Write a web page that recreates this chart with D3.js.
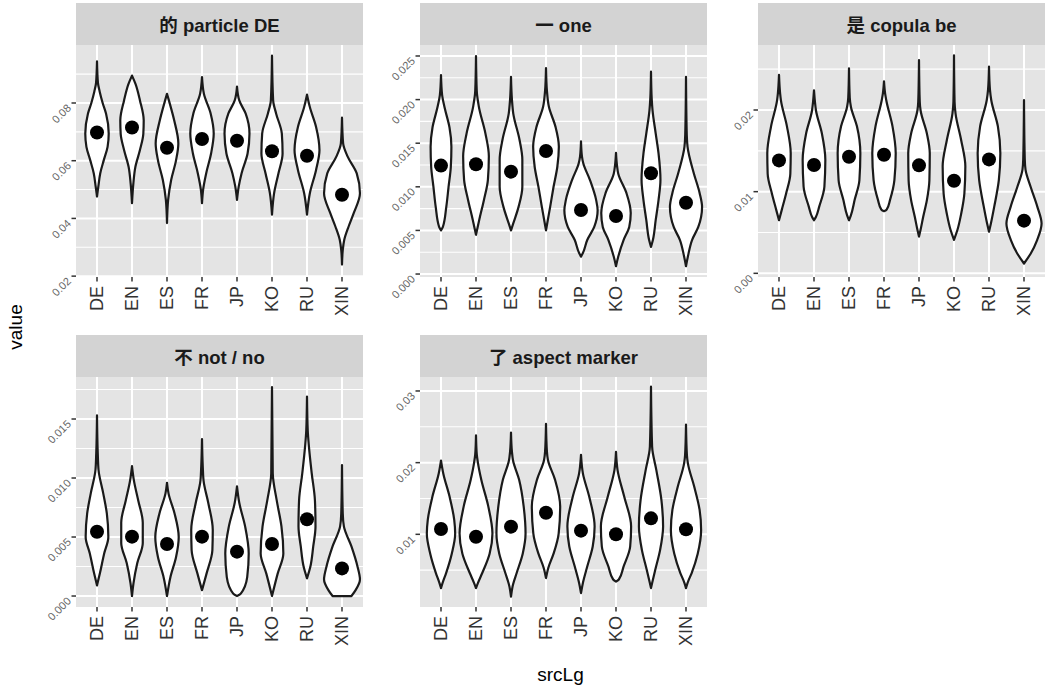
<!DOCTYPE html>
<html>
<head>
<meta charset="utf-8">
<script src="https://cdn.jsdelivr.net/npm/d3@7"></script>
<style>
  html, body { margin: 0; padding: 0; background: #ffffff; }
  svg { display: block; }
  text { font-family: "Liberation Sans", Arial, "Noto Sans CJK SC", sans-serif; }
</style>
</head>
<body>
<svg id="chart" width="1046" height="687"></svg>
<script>
// ---------------- DATA ----------------
const categories = ["DE", "EN", "ES", "FR", "JP", "KO", "RU", "XIN"];
const panelTitles = ["的 particle DE", "一 one", "是 copula be", "不 not / no", "了 aspect marker"];
const xTitle = "srcLg";
const yTitle = "value";

const yLimits = [
  [0.0197, 0.1001],
  [-0.00034, 0.02626],
  [-0.00045, 0.02796],
  [-0.00093, 0.01856],
  [-0.00014, 0.03195]
];
const yTicks = [
  [0.02, 0.04, 0.06, 0.08],
  [0.000, 0.005, 0.010, 0.015, 0.020, 0.025],
  [0.00, 0.01, 0.02],
  [0.000, 0.005, 0.010, 0.015],
  [0.01, 0.02, 0.03]
];
const yTickLabels = [
  ["0.02", "0.04", "0.06", "0.08"],
  ["0.000", "0.005", "0.010", "0.015", "0.020", "0.025"],
  ["0.00", "0.01", "0.02"],
  ["0.000", "0.005", "0.010", "0.015"],
  ["0.01", "0.02", "0.03"]
];
const yMinorTicks = [
  [0.03, 0.05, 0.07, 0.09],
  [0.0025, 0.0075, 0.0125, 0.0175, 0.0225],
  [0.005, 0.015, 0.025],
  [0.0025, 0.0075, 0.0125, 0.0175],
  [0.005, 0.015, 0.025]
];

// mean value per source language (black dots)
const means = [
  [0.0698, 0.0715, 0.0645, 0.0675, 0.0669, 0.0633, 0.0617, 0.0482],
  [0.01243, 0.01258, 0.01174, 0.01411, 0.00734, 0.00665, 0.01155, 0.00818],
  [0.01383, 0.01326, 0.01428, 0.01452, 0.01322, 0.01134, 0.01395, 0.00645],
  [0.00545, 0.00503, 0.00441, 0.00503, 0.00376, 0.00441, 0.0065, 0.00234],
  [0.01074, 0.00967, 0.01107, 0.01302, 0.01051, 0.0100, 0.01223, 0.0107]
];

// violin profiles: [value, relative density width (0..1)] from top to bottom
const violinDE = [
  [[0.0944,0],[0.0870,.05],[0.0840,.14],[0.0800,.3],[0.0763,.48],[0.0694,.62],[0.0648,.56],[0.0602,.36],[0.0556,.17],[0.0510,.07],[0.0476,0]],
  [[0.0895,0],[0.0867,.18],[0.0809,.42],[0.0740,.62],[0.0694,.6],[0.0637,.42],[0.0579,.18],[0.0520,.07],[0.0453,0]],
  [[0.0832,0],[0.0809,.1],[0.0740,.38],[0.0660,.6],[0.0602,.48],[0.0533,.22],[0.0464,.06],[0.0384,0]],
  [[0.0890,0],[0.0832,.1],[0.0763,.46],[0.0694,.62],[0.0625,.48],[0.0556,.22],[0.0500,.06],[0.0453,0]],
  [[0.0857,0],[0.0809,.12],[0.0763,.46],[0.0694,.66],[0.0625,.56],[0.0556,.24],[0.0510,.09],[0.0464,0]],
  [[0.0964,0],[0.0809,.06],[0.0763,.22],[0.0694,.52],[0.0625,.56],[0.0556,.34],[0.0487,.11],[0.0413,0]],
  [[0.0829,0],[0.0786,.15],[0.0717,.48],[0.0637,.66],[0.0568,.48],[0.0487,.15],[0.0413,0]],
  [[0.0749,0],[0.0660,.06],[0.0614,.3],[0.0556,.78],[0.0487,.95],[0.0418,.62],[0.0372,.35],[0.0326,.12],[0.0290,.04],[0.0240,0]]
];
const violinYi = [
  [[0.0228,0],[0.0205,.06],[0.0190,.2],[0.0168,.45],[0.0146,.55],[0.0123,.52],[0.0100,.4],[0.0077,.28],[0.0054,.1],[0.0050,0]],
  [[0.0250,0],[0.0210,.04],[0.0192,.15],[0.0161,.5],[0.0135,.68],[0.0108,.63],[0.0085,.42],[0.0062,.17],[0.0045,0]],
  [[0.0226,0],[0.0200,.05],[0.0184,.12],[0.0154,.45],[0.0131,.6],[0.0100,.6],[0.0077,.4],[0.0058,.12],[0.0050,0]],
  [[0.0236,0],[0.0210,.05],[0.0192,.15],[0.0169,.5],[0.0146,.68],[0.0123,.6],[0.0100,.4],[0.0077,.22],[0.0060,.08],[0.0050,0]],
  [[0.0152,0],[0.0135,.05],[0.0127,.12],[0.0108,.47],[0.0085,.8],[0.0073,.88],[0.0054,.7],[0.0039,.33],[0.0024,.1],[0.0020,0]],
  [[0.0139,0],[0.0125,.05],[0.0115,.12],[0.0093,.55],[0.0070,.78],[0.0054,.7],[0.0039,.4],[0.0020,.12],[0.0009,0]],
  [[0.0232,0],[0.0200,.04],[0.0188,.08],[0.0161,.25],[0.0138,.4],[0.0108,.5],[0.0085,.4],[0.0062,.25],[0.0039,.1],[0.0031,0]],
  [[0.0226,0],[0.0160,.04],[0.0146,.08],[0.0115,.42],[0.0093,.72],[0.0077,.85],[0.0054,.65],[0.0039,.32],[0.0020,.1],[0.0009,0]]
];
const violinShi = [
  [[0.0243,0],[0.0220,.06],[0.0212,.1],[0.0180,.42],[0.0147,.62],[0.0122,.6],[0.0098,.38],[0.0078,.15],[0.0065,0]],
  [[0.0224,0],[0.0210,.05],[0.0200,.1],[0.0171,.42],[0.0139,.6],[0.0106,.55],[0.0082,.28],[0.0069,.1],[0.0065,0]],
  [[0.0251,0],[0.0215,.04],[0.0204,.1],[0.0180,.42],[0.0147,.6],[0.0114,.55],[0.0090,.3],[0.0071,.1],[0.0065,0]],
  [[0.0235,0],[0.0220,.06],[0.0212,.12],[0.0180,.45],[0.0147,.62],[0.0114,.55],[0.0090,.32],[0.0078,.14],[0.0076,0]],
  [[0.0261,0],[0.0210,.04],[0.0200,.08],[0.0171,.42],[0.0147,.57],[0.0114,.55],[0.0090,.42],[0.0069,.22],[0.0053,.08],[0.0045,0]],
  [[0.0267,0],[0.0210,.03],[0.0196,.08],[0.0163,.38],[0.0131,.6],[0.0098,.55],[0.0073,.38],[0.0053,.18],[0.0041,0]],
  [[0.0253,0],[0.0225,.05],[0.0212,.12],[0.0180,.47],[0.0147,.6],[0.0114,.52],[0.0082,.28],[0.0061,.1],[0.0051,0]],
  [[0.0212,0],[0.0140,.04],[0.0127,.08],[0.0106,.35],[0.0082,.7],[0.0061,.93],[0.0041,.7],[0.0024,.35],[0.0012,0]]
];
const violinBu = [
  [[0.0153,0],[0.0121,.04],[0.0107,.08],[0.0087,.33],[0.0070,.52],[0.0050,.6],[0.0036,.38],[0.0019,.15],[0.0009,0]],
  [[0.0110,0],[0.0098,.1],[0.0081,.33],[0.0062,.57],[0.0045,.57],[0.0028,.28],[0.0011,.08],[0.0000,0]],
  [[0.0096,0],[0.0087,.08],[0.0070,.4],[0.0050,.62],[0.0033,.48],[0.0016,.18],[0.0000,0]],
  [[0.0133,0],[0.0110,.04],[0.0098,.08],[0.0079,.33],[0.0056,.57],[0.0039,.55],[0.0019,.24],[0.0005,0]],
  [[0.0093,0],[0.0079,.12],[0.0059,.43],[0.0036,.62],[0.0016,.54],[0.0002,.2],[0.0000,0]],
  [[0.0177,0],[0.0104,.04],[0.0081,.25],[0.0059,.5],[0.0036,.6],[0.0019,.3],[0.0000,0]],
  [[0.0169,0],[0.0140,.04],[0.0127,.1],[0.0104,.25],[0.0081,.42],[0.0059,.45],[0.0042,.33],[0.0025,.18],[0.0015,0]],
  [[0.0111,0],[0.0070,.04],[0.0059,.1],[0.0042,.5],[0.0025,.82],[0.0014,.95],[0.0005,.72],[0.0000,.5]]
];
const violinLe = [
  [[0.0203,0],[0.0185,.12],[0.0153,.45],[0.0120,.7],[0.0101,.75],[0.0073,.57],[0.0046,.27],[0.0032,.08],[0.0025,0]],
  [[0.0238,0],[0.0212,.04],[0.0200,.1],[0.0176,.28],[0.0139,.65],[0.0101,.87],[0.0073,.72],[0.0046,.33],[0.0032,.1],[0.0025,0]],
  [[0.0242,0],[0.0215,.05],[0.0204,.1],[0.0176,.43],[0.0139,.67],[0.0101,.77],[0.0073,.62],[0.0046,.3],[0.0027,.08],[0.0013,0]],
  [[0.0254,0],[0.0215,.05],[0.0204,.1],[0.0176,.48],[0.0139,.75],[0.0101,.67],[0.0073,.4],[0.0053,.12],[0.0039,0]],
  [[0.0211,0],[0.0185,.1],[0.0153,.43],[0.0111,.72],[0.0083,.62],[0.0055,.33],[0.0032,.1],[0.0018,0]],
  [[0.0215,0],[0.0190,.08],[0.0153,.43],[0.0111,.8],[0.0083,.75],[0.0055,.4],[0.0037,.15],[0.0034,0]],
  [[0.0306,0],[0.0222,.06],[0.0190,.28],[0.0148,.55],[0.0111,.64],[0.0078,.48],[0.0050,.22],[0.0032,.06],[0.0025,0]],
  [[0.0253,0],[0.0210,.05],[0.0199,.1],[0.0167,.43],[0.0134,.72],[0.0106,.8],[0.0073,.62],[0.0046,.3],[0.0032,.08],[0.0025,0]]
];
const violins = [violinDE, violinYi, violinShi, violinBu, violinLe];

// ---------------- LAYOUT ----------------
const svg = d3.select("#chart");
const colLeft = [76, 420, 758];
const panelW = 287;
const stripTop = [3, 335];
const stripH = 42;
const panelBottom = [277, 607];
const panelBg = "#e4e4e4";
const stripBg = "#d3d3d3";

panelTitles.forEach((title, i) => {
  const col = i % 3, row = Math.floor(i / 3);
  const left = colLeft[col], right = left + panelW;
  const top = stripTop[row] + stripH, bottom = panelBottom[row];

  const x = d3.scalePoint().domain(categories).range([left, right]).padding(0.6);
  const y = d3.scaleLinear().domain(yLimits[i]).range([bottom, top]);
  const w = d3.scaleLinear().domain([0, 1]).range([0, x.step() * 0.54]);

  const g = svg.append("g");

  // strip
  g.append("rect").attr("x", left).attr("y", stripTop[row]).attr("width", panelW).attr("height", stripH).attr("fill", stripBg);
  g.append("text").attr("x", (left + right) / 2).attr("y", stripTop[row] + 28.5)
    .attr("text-anchor", "middle").attr("font-size", 18.5).attr("font-weight", "bold").attr("fill", "#1a1a1a")
    .text(title);

  // panel background
  g.append("rect").attr("x", left).attr("y", top).attr("width", panelW).attr("height", bottom - top).attr("fill", panelBg);

  // grid
  g.selectAll(".minor").data(yMinorTicks[i]).join("line")
    .attr("x1", left).attr("x2", right).attr("y1", d => y(d)).attr("y2", d => y(d))
    .attr("stroke", "#ffffff").attr("stroke-width", 1.1);
  g.selectAll(".major").data(yTicks[i]).join("line")
    .attr("x1", left).attr("x2", right).attr("y1", d => y(d)).attr("y2", d => y(d))
    .attr("stroke", "#ffffff").attr("stroke-width", 2);
  g.selectAll(".vgrid").data(categories).join("line")
    .attr("x1", d => x(d)).attr("x2", d => x(d)).attr("y1", top).attr("y2", bottom)
    .attr("stroke", "#ffffff").attr("stroke-width", 2);

  // violins
  const area = d3.area()
    .y(d => y(d[0]))
    .curve(d3.curveMonotoneY);
  categories.forEach((c, k) => {
    const cx = x(c);
    area.x0(d => cx - w(d[1])).x1(d => cx + w(d[1]));
    g.append("path").attr("d", area(violins[i][k]))
      .attr("fill", "#ffffff").attr("stroke", "#1a1a1a").attr("stroke-width", 2.2)
      .attr("stroke-linejoin", "round");
  });

  // mean points
  g.selectAll(".pt").data(means[i]).join("circle")
    .attr("cx", (d, k) => x(categories[k])).attr("cy", d => y(d)).attr("r", 7).attr("fill", "#000000");

  // y axis ticks + labels
  yTicks[i].forEach((t, k) => {
    g.append("line").attr("x1", left - 4.5).attr("x2", left).attr("y1", y(t)).attr("y2", y(t))
      .attr("stroke", "#333333").attr("stroke-width", 1.5);
    const lx = left - 7, ly = y(t) + 3;
    g.append("text").attr("transform", `translate(${lx},${ly}) rotate(-45)`)
      .attr("text-anchor", "end").attr("dy", "0.35em").attr("font-size", 11).attr("fill", "#666666")
      .text(yTickLabels[i][k]);
  });

  // x axis ticks + labels
  categories.forEach(c => {
    g.append("line").attr("x1", x(c)).attr("x2", x(c)).attr("y1", bottom).attr("y2", bottom + 4.5)
      .attr("stroke", "#333333").attr("stroke-width", 1.5);
    g.append("text").attr("transform", `translate(${x(c)},${bottom + 9}) rotate(-90)`)
      .attr("text-anchor", "end").attr("dy", "0.36em").attr("font-size", 18).attr("fill", "#333333")
      .text(c);
  });
});

// axis titles
svg.append("text").attr("transform", "translate(22,327) rotate(-90)")
  .attr("text-anchor", "middle").attr("font-size", 19).attr("fill", "#000000").text(yTitle);
svg.append("text").attr("x", 560.5).attr("y", 681)
  .attr("text-anchor", "middle").attr("font-size", 19).attr("fill", "#000000").text(xTitle);
</script>
</body>
</html>
